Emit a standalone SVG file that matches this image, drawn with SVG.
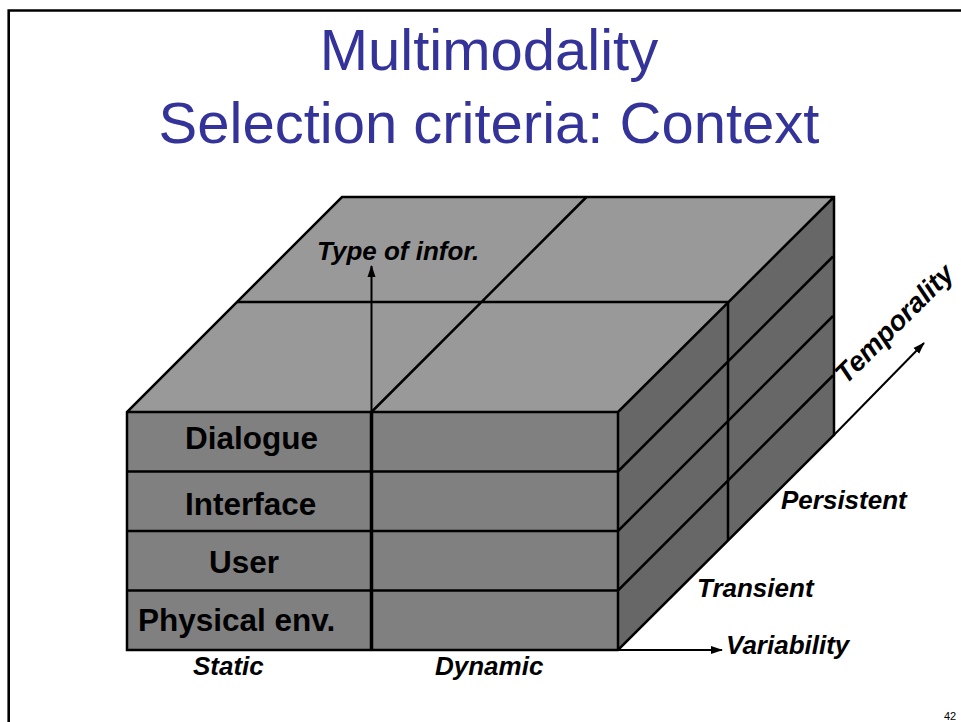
<svg xmlns="http://www.w3.org/2000/svg" width="961" height="722" viewBox="0 0 961 722">
<style>
.title{font-family:"Liberation Sans",Arial,sans-serif;font-size:58px;fill:#333399}
.row{font-family:"Liberation Sans",Arial,sans-serif;font-size:31.5px;font-weight:bold;fill:#000}
.ax{font-family:"Liberation Sans",Arial,sans-serif;font-size:26px;font-weight:bold;font-style:italic;fill:#000}
.edge{stroke:#000;stroke-width:2.5;fill:none;stroke-linejoin:miter}
.arr{stroke:#000;stroke-width:2;fill:none}
</style>
<defs>
<marker id="ah" markerUnits="userSpaceOnUse" markerWidth="12" markerHeight="10" refX="11" refY="5" orient="auto">
<path d="M0,1 L12,5 L0,9 Z" fill="#000"/>
</marker>
</defs>
<rect width="961" height="722" fill="#fff"/>
<path d="M8.7 722 V10.5 H961" fill="none" stroke="#000" stroke-width="2.6"/>
<g id="title">
<text class="title" x="489" y="70" text-anchor="middle">Multimodality</text>
<text class="title" x="489" y="143" text-anchor="middle">Selection criteria: Context</text>
</g>
<g id="cube">
<polygon points="127,412 342,197 834,197 618,412" fill="#999999"/>
<rect x="127" y="412" width="491" height="238" fill="#808080"/>
<polygon points="618,412 834,197 834,435 618,650" fill="#676767"/>
<path class="edge" d="M127,650 V412 L342,197 H834 V435 L618,650 Z M127,412 H618 V650 M618,412 L834,197"/>
<path class="edge" d="M237,302 H728 V540 M371.5,412 L586.5,197"/>
<path class="edge" d="M127,471.5 H618 L833,256.5 M127,531 H618 L833,316 M127,590.5 H618 L833,375.5"/>
<line x1="371.5" y1="412" x2="371.5" y2="651" stroke="#000" stroke-width="3.5"/>
</g>
<g id="connectors">
<line class="arr" x1="371.5" y1="412" x2="371.5" y2="266" marker-end="url(#ah)"/>
<line class="arr" x1="833" y1="436" x2="924" y2="343" marker-end="url(#ah)"/>
<line class="arr" x1="618" y1="650" x2="722" y2="650" marker-end="url(#ah)"/>
</g>
<g id="labels">
<text class="row" x="185" y="449">Dialogue</text>
<text class="row" x="185" y="515">Interface</text>
<text class="row" x="209" y="573">User</text>
<text class="row" x="138" y="631">Physical env.</text>
<text class="ax" x="193" y="675">Static</text>
<text class="ax" x="435" y="675">Dynamic</text>
<text class="ax" x="726" y="654">Variability</text>
<text class="ax" x="697" y="597">Transient</text>
<text class="ax" x="781" y="509">Persistent</text>
<text class="ax" x="317" y="260">Type of infor.</text>
<text class="ax" style="font-size:27.5px" transform="translate(846,385) rotate(-45)">Temporality</text>
<text x="944" y="720" font-family="Liberation Sans,Arial,sans-serif" font-size="11" fill="#000">42</text>
</g>
</svg>
